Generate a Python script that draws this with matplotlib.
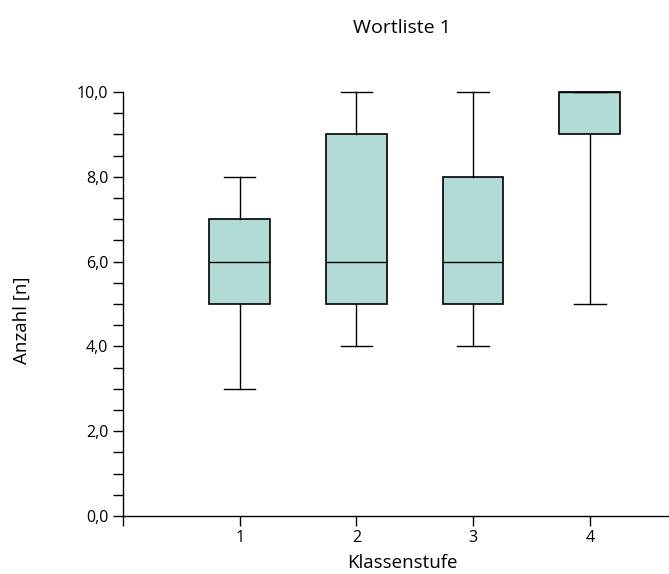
import matplotlib.pyplot as plt
from matplotlib.ticker import MultipleLocator, FuncFormatter

# Kennwerte je Klassenstufe
klassen = [1, 2, 3, 4]
whis_lo = [3, 4, 4, 5]
q1 = [5, 5, 5, 9]
median = [6, 6, 6, 10]
q3 = [7, 9, 8, 10]
whis_hi = [8, 10, 10, 10]

plt.rcParams['font.family'] = ['Open Sans', 'DejaVu Sans']

fig = plt.figure(figsize=(6.69, 5.74), dpi=100)
ax = fig.add_axes([123/669, 1 - 516/574, 583.5/669, 424/574])

stats = []
for k, lo, a, m, b, hi in zip(klassen, whis_lo, q1, median, q3, whis_hi):
    stats.append(dict(label=str(k), whislo=lo, q1=a, med=m, q3=b, whishi=hi, fliers=[]))

bp = ax.bxp(stats, positions=klassen, widths=0.52, patch_artist=True, showfliers=False,
            boxprops=dict(facecolor='#b3dbd6', edgecolor='black', linewidth=1.2),
            medianprops=dict(color='black', linewidth=1.0),
            whiskerprops=dict(color='black', linewidth=1.0),
            capprops=dict(color='black', linewidth=1.0),
            capwidths=0.27)
for art in bp['boxes'] + bp['medians'] + bp['whiskers'] + bp['caps']:
    art.set_clip_on(False)

ax.set_xlim(0, 5)
ax.set_ylim(0, 10)
ax.set_xticks([0, 1, 2, 3, 4, 5])
ax.set_xticklabels(['', '1', '2', '3', '4', ''])
ax.yaxis.set_major_locator(MultipleLocator(2))
ax.yaxis.set_minor_locator(MultipleLocator(0.5))
ax.yaxis.set_major_formatter(FuncFormatter(lambda v, p: f'{v:.1f}'.replace('.', ',')))

for s in ['top', 'right']:
    ax.spines[s].set_visible(False)
ax.spines['left'].set_linewidth(1.0)
ax.spines['bottom'].set_linewidth(1.0)
ax.tick_params(axis='both', which='both', direction='out', length=7, width=1.0, labelsize=11.5)
ax.tick_params(axis='x', pad=3)

ax.set_xlabel('Klassenstufe', fontsize=13.5)
ax.xaxis.label.set_va('center')
ax.xaxis.set_label_coords((402 - 123) / 583.5, (516 - 563) / 424)
ax.set_ylabel('Anzahl [n]', fontsize=13.5)
ax.yaxis.label.set_va('center')
ax.yaxis.set_label_coords((22 - 123) / 583.5, (516 - 320) / 424)
fig.text(402/669, 1 - 28/574, 'Wortliste 1', ha='center', va='center', fontsize=14)

fig.savefig('out.png', dpi=100)
